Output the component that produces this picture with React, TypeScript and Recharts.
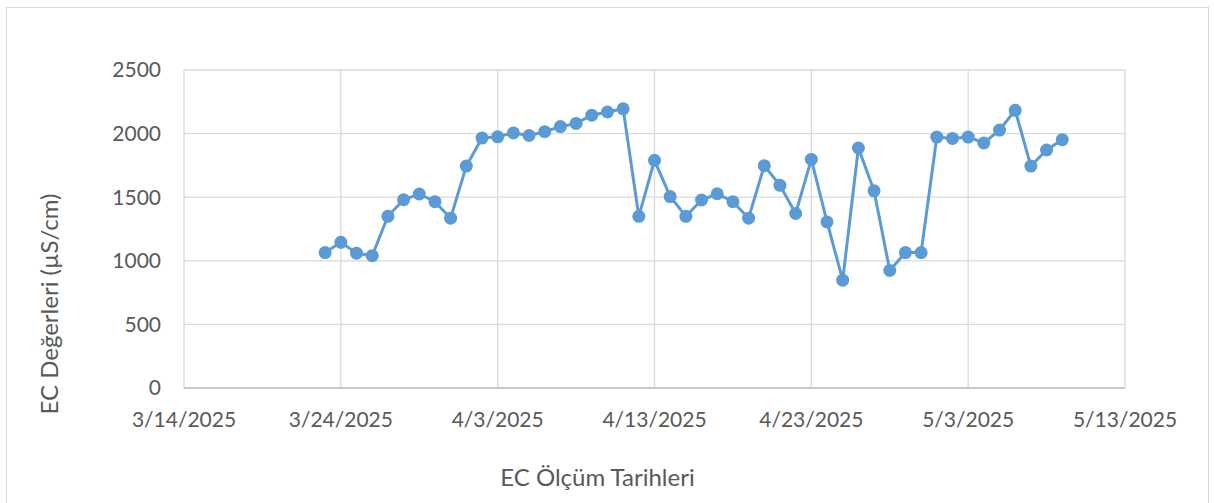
import React from 'react';
import { LineChart, Line, XAxis, YAxis, CartesianGrid } from 'recharts';

// EC measurement dates (daily) and values in µS/cm
const measureDates = [
  '2025-03-23', '2025-03-24', '2025-03-25', '2025-03-26', '2025-03-27', '2025-03-28',
  '2025-03-29', '2025-03-30', '2025-03-31', '2025-04-01', '2025-04-02', '2025-04-03',
  '2025-04-04', '2025-04-05', '2025-04-06', '2025-04-07', '2025-04-08', '2025-04-09',
  '2025-04-10', '2025-04-11', '2025-04-12', '2025-04-13', '2025-04-14', '2025-04-15',
  '2025-04-16', '2025-04-17', '2025-04-18', '2025-04-19', '2025-04-20', '2025-04-21',
  '2025-04-22', '2025-04-23', '2025-04-24', '2025-04-25', '2025-04-26', '2025-04-27',
  '2025-04-28', '2025-04-29', '2025-04-30', '2025-05-01', '2025-05-02', '2025-05-03',
  '2025-05-04', '2025-05-05', '2025-05-06', '2025-05-07', '2025-05-08', '2025-05-09',
];

const ecValues = [
  1065, 1145, 1060, 1040, 1350, 1480,
  1525, 1465, 1335, 1745, 1965, 1975,
  2005, 1985, 2015, 2055, 2080, 2145,
  2170, 2195, 1350, 1790, 1505, 1350,
  1478, 1527, 1465, 1335, 1748, 1593,
  1372, 1797, 1306, 848, 1887, 1550,
  924, 1065, 1065, 1973, 1962, 1973,
  1926, 2028, 2183, 1745, 1871, 1952,
];

const xTickDates = ['2025-03-14', '2025-03-24', '2025-04-03', '2025-04-13', '2025-04-23', '2025-05-03', '2025-05-13'];
const yTicks = [0, 500, 1000, 1500, 2000, 2500];

const toTime = (s: string) => {
  const [y, m, d] = s.split('-').map(Number);
  return Date.UTC(y, m - 1, d);
};

const formatDate = (t: number) => {
  const d = new Date(t);
  return `${d.getUTCMonth() + 1}/${d.getUTCDate()}/${d.getUTCFullYear()}`;
};

const data = measureDates.map((date, i) => ({ t: toTime(date), ec: ecValues[i] }));
const xTicks = xTickDates.map(toTime);

const FONT = 'Lato, "Open Sans", sans-serif';
const TEXT = '#595959';
const BLUE = '#5b9bd5';

const App: React.FC = () => {
  return (
    <div style={{ position: 'absolute', left: 0, top: 0, width: 1214, height: 503, background: '#fff', overflow: 'hidden' }}>
      <div
        style={{
          position: 'absolute',
          left: 6,
          top: 7,
          width: 1203,
          height: 520,
          border: '1.3px solid #d9d9d9',
          boxSizing: 'border-box',
        }}
      />
      <div style={{ position: 'absolute', left: 0, top: 0 }}>
        <LineChart width={1214} height={503} data={data} margin={{ top: 70, right: 89, left: 0, bottom: 75 }}>
          <CartesianGrid stroke="#d9d9d9" strokeWidth={1.3} />
          <XAxis
            dataKey="t"
            type="number"
            scale="time"
            domain={[xTicks[0], xTicks[xTicks.length - 1]]}
            ticks={xTicks}
            tickFormatter={formatDate}
            height={40}
            tickLine={false}
            tickSize={6}
            tickMargin={18}
            axisLine={{ stroke: '#bfbfbf', strokeWidth: 1.3 }}
            tick={{ fill: TEXT, fontSize: 21, fontFamily: FONT }}
            interval={0}
            label={{
              value: 'EC Ölçüm Tarihleri',
              position: 'bottom',
              offset: 41,
              dx: -57,
              style: { fill: TEXT, fontSize: 24, fontFamily: FONT },
            }}
          />
          <YAxis
            domain={[0, 2500]}
            ticks={yTicks}
            width={184}
            tickLine={false}
            axisLine={false}
            tickSize={6}
            tickMargin={17}
            tick={{ fill: TEXT, fontSize: 21, fontFamily: FONT }}
            interval={0}
            label={{
              content: () => (
                <text
                  x={58}
                  y={304}
                  transform="rotate(-90 58 304)"
                  textAnchor="middle"
                  fill={TEXT}
                  fontSize={24}
                  fontFamily={FONT}
                >
                  EC Değerleri (µS/cm)
                </text>
              ),
            }}
          />
          <Line
            type="linear"
            dataKey="ec"
            stroke={BLUE}
            strokeWidth={3}
            dot={{ r: 6.5, fill: BLUE, stroke: 'none' }}
            activeDot={false}
            isAnimationActive={false}
          />
        </LineChart>
      </div>
    </div>
  );
};

export default App;
